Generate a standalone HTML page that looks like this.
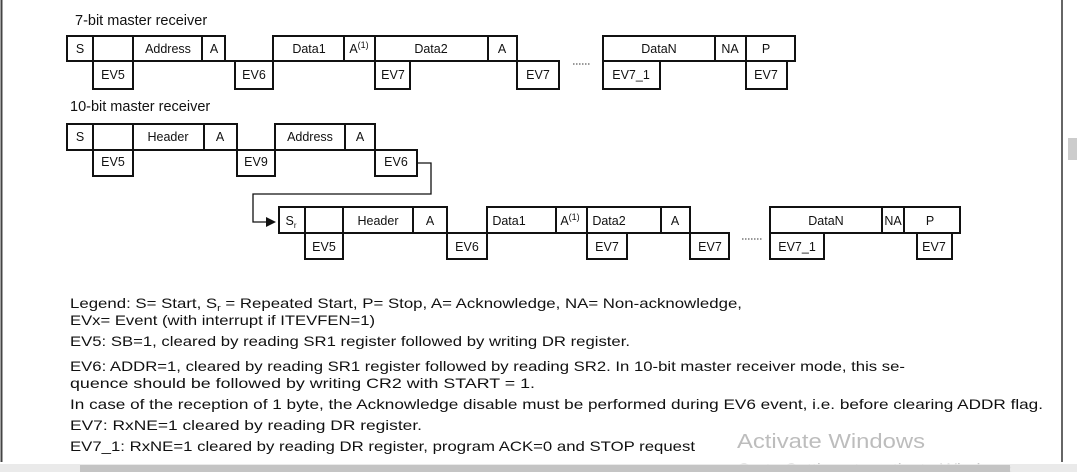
<!DOCTYPE html>
<html><head><meta charset="utf-8"><style>
html,body{margin:0;padding:0;background:#fff;}
svg{display:block;}
text{font-family:"Liberation Sans",Arial,sans-serif;fill:#111;}
</style></head><body>
<svg width="1077" height="472" viewBox="0 0 1077 472" xmlns="http://www.w3.org/2000/svg">
<rect width="1077" height="472" fill="#fff"/>
<line x1="1.5" y1="0" x2="1.5" y2="462" stroke="#444" stroke-width="2"/>
<line x1="1062" y1="0" x2="1062" y2="462" stroke="#666" stroke-width="2"/>
<rect x="1068" y="138" width="9" height="22" fill="#ccc"/>

<text x="75" y="25" font-size="14.5">7-bit master receiver</text>
<text x="70" y="111" font-size="14.5">10-bit master receiver</text>

<g fill="none" stroke="#111" stroke-width="2">
<!-- Row1 -->
<rect x="67" y="36" width="158" height="25"/>
<line x1="93" y1="36" x2="93" y2="61"/><line x1="133" y1="36" x2="133" y2="61"/><line x1="202" y1="36" x2="202" y2="61"/>
<rect x="93" y="61" width="40" height="28"/>
<line x1="225" y1="61" x2="235" y2="61"/>
<rect x="235" y="61" width="38" height="28"/>
<rect x="273" y="36" width="244" height="25"/>
<line x1="344" y1="36" x2="344" y2="61"/><line x1="375" y1="36" x2="375" y2="61"/><line x1="488" y1="36" x2="488" y2="61"/>
<rect x="375" y="61" width="35" height="28"/>
<rect x="517" y="61" width="42" height="28"/>
<rect x="603" y="36" width="192" height="25"/>
<line x1="715" y1="36" x2="715" y2="61"/><line x1="746" y1="36" x2="746" y2="61"/>
<rect x="603" y="61" width="57" height="28"/>
<rect x="746" y="61" width="41" height="28"/>
<!-- Row2 -->
<rect x="67" y="124" width="170" height="26"/>
<line x1="93" y1="124" x2="93" y2="150"/><line x1="133" y1="124" x2="133" y2="150"/><line x1="204" y1="124" x2="204" y2="150"/>
<rect x="93" y="150" width="40" height="26"/>
<rect x="237" y="150" width="38" height="26"/>
<rect x="275" y="124" width="100" height="26"/>
<line x1="345" y1="124" x2="345" y2="150"/>
<rect x="375" y="150" width="42" height="26"/>
<!-- Row3 -->
<rect x="279" y="207" width="168" height="26"/>
<line x1="305" y1="207" x2="305" y2="233"/><line x1="343" y1="207" x2="343" y2="233"/><line x1="413" y1="207" x2="413" y2="233"/>
<rect x="305" y="233" width="38" height="26"/>
<rect x="447" y="233" width="40" height="26"/>
<rect x="487" y="207" width="203" height="26"/>
<line x1="556" y1="207" x2="556" y2="233"/><line x1="587" y1="207" x2="587" y2="233"/><line x1="661" y1="207" x2="661" y2="233"/>
<rect x="587" y="233" width="40" height="26"/>
<rect x="690" y="233" width="39" height="26"/>
<rect x="770" y="207" width="190" height="26"/>
<line x1="882" y1="207" x2="882" y2="233"/><line x1="904" y1="207" x2="904" y2="233"/>
<rect x="770" y="233" width="54" height="26"/>
<rect x="917" y="233" width="35" height="26"/>
</g>
<polyline points="417,163 431,163 431,194 253,194 253,222 268,222" fill="none" stroke="#111" stroke-width="1.3"/>
<polygon points="266,217 276,222 266,227" fill="#111"/>
<g stroke="#333" stroke-width="1" stroke-dasharray="1.5,1.5"><line x1="573" y1="64" x2="590" y2="64"/><line x1="742" y1="239" x2="762" y2="239"/></g>

<g font-size="12.5" text-anchor="middle">
<text x="80" y="53">S</text><text x="168" y="53">Address</text><text x="214" y="53">A</text>
<text x="113" y="79">EV5</text><text x="254" y="79">EV6</text>
<text x="309" y="53">Data1</text><text x="359" y="53">A<tspan font-size="9" dy="-5">(1)</tspan></text>
<text x="431" y="53">Data2</text><text x="502" y="53">A</text>
<text x="393" y="79">EV7</text><text x="538" y="79">EV7</text>
<text x="659" y="53">DataN</text><text x="730" y="53">NA</text><text x="766" y="53">P</text>
<text x="631" y="79">EV7_1</text><text x="766" y="79">EV7</text>

<text x="80" y="141">S</text><text x="168" y="141">Header</text><text x="220" y="141">A</text>
<text x="113" y="166">EV5</text><text x="256" y="166">EV9</text>
<text x="310" y="141">Address</text><text x="360" y="141">A</text>
<text x="396" y="166">EV6</text>

<text x="291" y="225">S<tspan font-size="8" dy="3">r</tspan></text>
<text x="378" y="225">Header</text><text x="430" y="225">A</text>
<text x="324" y="251">EV5</text><text x="467" y="251">EV6</text>
<text x="509" y="225">Data1</text><text x="570" y="225">A<tspan font-size="9" dy="-5">(1)</tspan></text>
<text x="609" y="225">Data2</text><text x="675" y="225">A</text>
<text x="607" y="251">EV7</text><text x="710" y="251">EV7</text>
<text x="826" y="225">DataN</text><text x="893" y="225">NA</text><text x="930" y="225">P</text>
<text x="797" y="251">EV7_1</text><text x="934" y="251">EV7</text>
</g>

<g font-size="14">
<text x="70" y="308" textLength="672" lengthAdjust="spacingAndGlyphs">Legend: S= Start, S<tspan font-size="9" dy="3">r</tspan><tspan dy="-3"> = Repeated Start, P= Stop, A= Acknowledge, NA= Non-acknowledge,</tspan></text>
<text x="70" y="325" textLength="305" lengthAdjust="spacingAndGlyphs">EVx= Event (with interrupt if ITEVFEN=1)</text>
<text x="70" y="346" textLength="560" lengthAdjust="spacingAndGlyphs">EV5: SB=1, cleared by reading SR1 register followed by writing DR register.</text>
<text x="70" y="371" textLength="835" lengthAdjust="spacingAndGlyphs">EV6: ADDR=1, cleared by reading SR1 register followed by reading SR2. In 10-bit master receiver mode, this se-</text>
<text x="70" y="388" textLength="465" lengthAdjust="spacingAndGlyphs">quence should be followed by writing CR2 with START = 1.</text>
<text x="70" y="409" textLength="973" lengthAdjust="spacingAndGlyphs">In case of the reception of 1 byte, the Acknowledge disable must be performed during EV6 event, i.e. before clearing ADDR flag.</text>
<text x="70" y="430" textLength="352" lengthAdjust="spacingAndGlyphs">EV7: RxNE=1 cleared by reading DR register.</text>
<text x="70" y="451" textLength="625" lengthAdjust="spacingAndGlyphs">EV7_1: RxNE=1 cleared by reading DR register, program ACK=0 and STOP request</text>
</g>
<text x="737" y="448" font-size="20" style="fill:#bdbdbd" textLength="188" lengthAdjust="spacingAndGlyphs">Activate Windows</text>
<text x="737" y="475" font-size="17" style="fill:#c8c8c8" textLength="280" lengthAdjust="spacingAndGlyphs">Go to Settings to activate Windows.</text>
<rect x="0" y="464" width="1077" height="8" fill="#e6e6e6" opacity="0.85"/>
<rect x="80" y="465" width="930" height="7" fill="#c4c4c4"/>
</svg>
</body></html>
